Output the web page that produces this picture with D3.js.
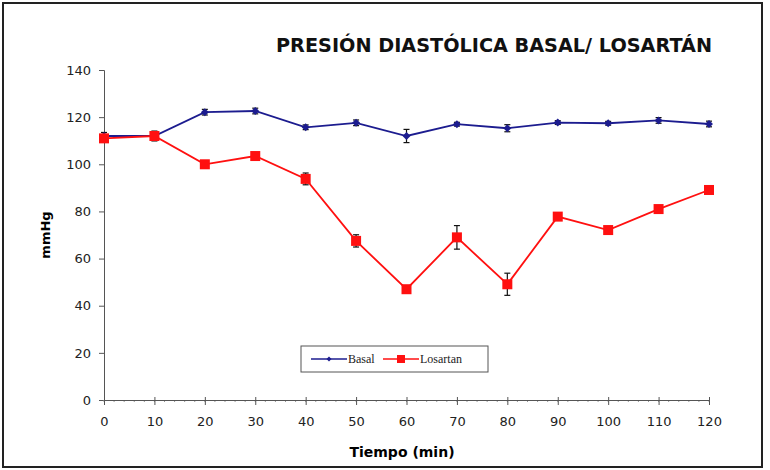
<!DOCTYPE html>
<html>
<head>
<meta charset="utf-8">
<script src="https://cdn.jsdelivr.net/npm/d3@7"></script>
<style>
  body { margin: 0; background: #fff; }
  svg { display: block; }
</style>
</head>
<body>
<script>
// Datos
const tiempos = [0, 10, 20, 30, 40, 50, 60, 70, 80, 90, 100, 110, 120];
const basal = [112, 112, 122.1, 122.6, 115.7, 117.6, 112, 117, 115.3, 117.7, 117.4, 118.6, 117.1];
const basalErr = [1.5, 2, 1.2, 1.2, 1, 1.2, 2.8, 0.8, 1.5, 0.8, 0.8, 1.2, 1.2];
const losartan = [111, 112, 100, 103.5, 93.8, 67.5, 47, 69, 49.1, 77.8, 72.1, 81, 89.1];
const losartanErr = [1, 2, 1, 1, 2.5, 2.6, 1, 5, 4.7, 1, 1, 1, 1];
const yTicks = [0, 20, 40, 60, 80, 100, 120, 140];
const xTicks = [0, 10, 20, 30, 40, 50, 60, 70, 80, 90, 100, 110, 120];

const width = 770, height = 470;
const fontTick = "Tahoma, 'DejaVu Sans', Verdana, sans-serif";

const svg = d3.select("body").append("svg")
  .attr("width", width)
  .attr("height", height);

// marco exterior
svg.append("rect")
  .attr("x", 3).attr("y", 3)
  .attr("width", 759).attr("height", 464)
  .attr("fill", "#fff")
  .attr("stroke", "#222")
  .attr("stroke-width", 2);

const x = d3.scaleLinear().domain([0, 120]).range([104, 709]);
const y = d3.scaleLinear().domain([0, 140]).range([400, 70]);

// título
svg.append("text")
  .attr("x", 276).attr("y", 52)
  .attr("textLength", 436)
  .attr("lengthAdjust", "spacingAndGlyphs")
  .style("font", `bold 19px ${fontTick}`)
  .attr("fill", "#111")
  .text("PRESIÓN DIASTÓLICA BASAL/ LOSARTÁN");

// eje Y
const yAxis = svg.append("g")
  .attr("transform", `translate(${x(0)},0)`)
  .call(d3.axisLeft(y).tickValues(yTicks).tickSize(5).tickPadding(8));
yAxis.select(".domain").attr("stroke", "#555");
yAxis.selectAll(".tick line").attr("stroke", "#555");
yAxis.selectAll("text").style("font", `13px ${fontTick}`).attr("fill", "#222");

// eje X con marcas menores
svg.append("g")
  .attr("transform", `translate(0,${y(0)})`)
  .selectAll("line")
  .data(d3.range(0, 121, 2))
  .join("line")
    .attr("x1", d => x(d)).attr("x2", d => x(d))
    .attr("y1", 0).attr("y2", 2)
    .attr("stroke", "#999");

const xAxis = svg.append("g")
  .attr("transform", `translate(0,${y(0)})`)
  .call(d3.axisBottom(x).tickValues(xTicks).tickSize(5).tickPadding(12).tickSizeOuter(0));
xAxis.select(".domain").attr("stroke", "#555");
xAxis.selectAll(".tick line").attr("stroke", "#555").attr("y1", -3);
xAxis.selectAll("text").style("font", `13px ${fontTick}`).attr("fill", "#222");

// etiquetas de ejes
svg.append("text")
  .attr("transform", `translate(50,${y(70)}) rotate(-90)`)
  .attr("text-anchor", "middle")
  .style("font", `bold 13px ${fontTick}`)
  .text("mmHg");

svg.append("text")
  .attr("x", 402).attr("y", 457)
  .attr("text-anchor", "middle")
  .style("font", `bold 14px ${fontTick}`)
  .text("Tiempo (min)");

const series = [
  { name: "Basal", values: basal, err: basalErr, color: "#1c1c8f", marker: "diamond" },
  { name: "Losartan", values: losartan, err: losartanErr, color: "#ff1010", marker: "square" }
];

const line = d3.line().x(d => x(d.t)).y(d => y(d.v));

series.forEach(s => {
  const pts = tiempos.map((t, i) => ({ t, v: s.values[i], e: s.err[i] }));
  const g = svg.append("g");

  g.append("path")
    .datum(pts)
    .attr("fill", "none")
    .attr("stroke", s.color)
    .attr("stroke-width", 1.8)
    .attr("d", line);

  // barras de error
  const eb = g.selectAll(".err").data(pts).join("g").attr("class", "err")
    .attr("stroke", "#111").attr("stroke-width", 1.2);
  eb.append("line")
    .attr("x1", d => x(d.t)).attr("x2", d => x(d.t))
    .attr("y1", d => y(d.v - d.e)).attr("y2", d => y(d.v + d.e));
  eb.append("line")
    .attr("x1", d => x(d.t) - 3).attr("x2", d => x(d.t) + 3)
    .attr("y1", d => y(d.v - d.e)).attr("y2", d => y(d.v - d.e));
  eb.append("line")
    .attr("x1", d => x(d.t) - 3).attr("x2", d => x(d.t) + 3)
    .attr("y1", d => y(d.v + d.e)).attr("y2", d => y(d.v + d.e));

  if (s.marker === "square") {
    g.selectAll(".mk").data(pts).join("rect").attr("class", "mk")
      .attr("x", d => x(d.t) - 5).attr("y", d => y(d.v) - 5)
      .attr("width", 10).attr("height", 10)
      .attr("fill", s.color);
  } else {
    g.selectAll(".mk").data(pts).join("path").attr("class", "mk")
      .attr("transform", d => `translate(${x(d.t)},${y(d.v)})`)
      .attr("d", d3.symbol(d3.symbolDiamond2, 40))
      .attr("fill", s.color);
  }
});

// leyenda
const legend = svg.append("g").attr("transform", "translate(301,346)");
legend.append("rect")
  .attr("width", 187).attr("height", 26)
  .attr("fill", "#fff")
  .attr("stroke", "#555")
  .attr("stroke-width", 1);

const legItems = legend.selectAll(".li").data(series).join("g")
  .attr("class", "li")
  .attr("transform", (d, i) => `translate(${i === 0 ? 10 : 82},13)`);
legItems.append("line")
  .attr("x1", 0).attr("x2", 36)
  .attr("stroke", d => d.color).attr("stroke-width", 1.5);
legItems.each(function(d) {
  const gi = d3.select(this);
  if (d.marker === "square") {
    gi.append("rect").attr("x", 14).attr("y", -4).attr("width", 8).attr("height", 8).attr("fill", d.color);
  } else {
    gi.append("path").attr("transform", "translate(18,0)")
      .attr("d", d3.symbol(d3.symbolDiamond2, 16)).attr("fill", d.color);
  }
});
legItems.append("text")
  .attr("x", 37).attr("y", 4)
  .style("font", "12px 'Liberation Serif', serif")
  .attr("fill", "#222")
  .text(d => d.name);
</script>
</body>
</html>
